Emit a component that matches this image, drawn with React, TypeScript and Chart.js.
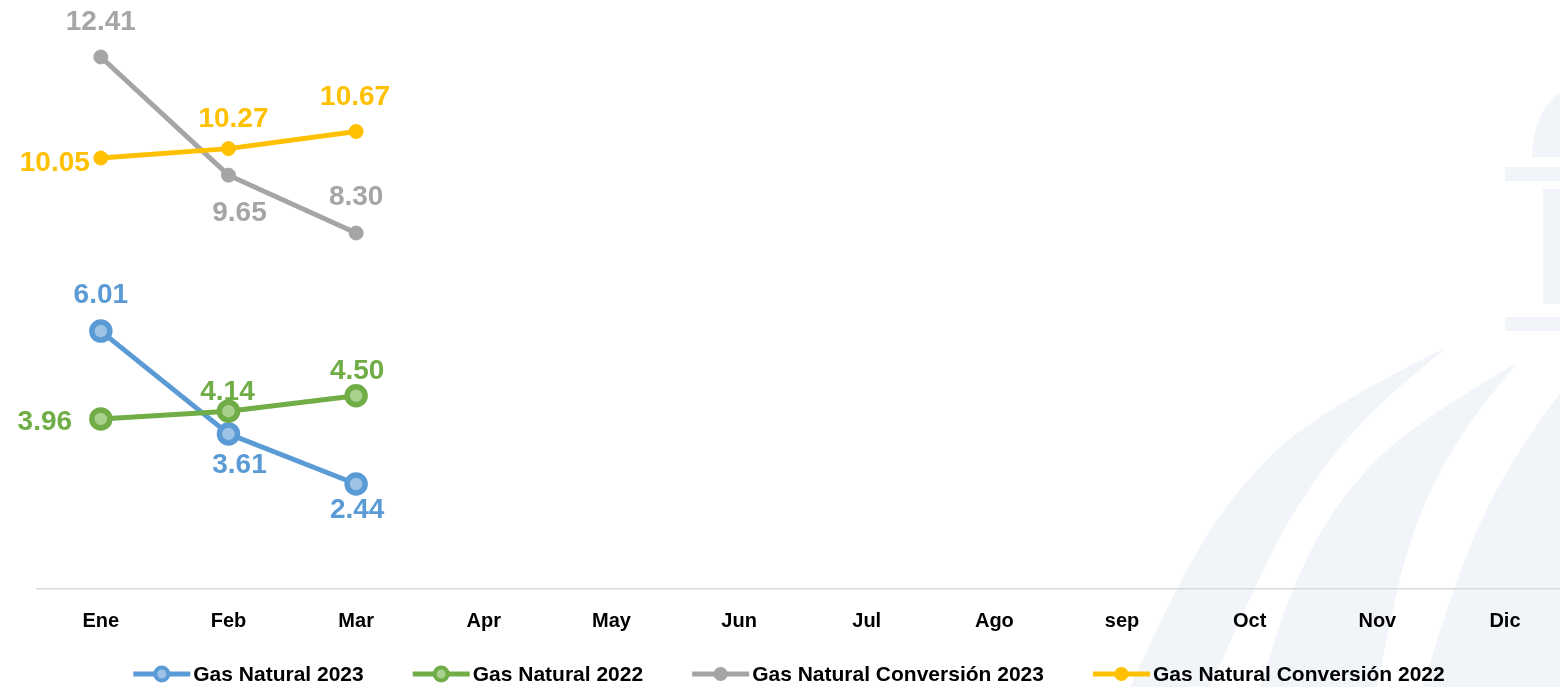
import React, { useEffect, useRef } from 'react';
import { Chart, registerables } from 'chart.js';

Chart.register(...registerables);

const months = ['Ene', 'Feb', 'Mar', 'Apr', 'May', 'Jun', 'Jul', 'Ago', 'sep', 'Oct', 'Nov', 'Dic'];
const gasNatural2023 = [6.01, 3.61, 2.44];
const gasNatural2022 = [3.96, 4.14, 4.5];
const conversion2023 = [12.41, 9.65, 8.3];
const conversion2022 = [10.05, 10.27, 10.67];
const seriesNames = [
  'Gas Natural 2023',
  'Gas Natural 2022',
  'Gas Natural Conversión 2023',
  'Gas Natural Conversión 2022',
];

const FONT = "'Liberation Sans', Arial, sans-serif";
const BLUE = '#5b9bd5';
const GREEN = '#70ad47';
const GRAY = '#a5a5a5';
const YELLOW = '#ffc000';

const toPoints = (arr: number[]) => arr.map((v, i) => ({ x: i, y: v }));

function smoothPath(ctx: CanvasRenderingContext2D, pts: number[][], move: boolean) {
  if (move) ctx.moveTo(pts[0][0], pts[0][1]);
  else ctx.lineTo(pts[0][0], pts[0][1]);
  for (let i = 1; i < pts.length - 1; i++) {
    const mx = (pts[i][0] + pts[i + 1][0]) / 2;
    const my = (pts[i][1] + pts[i + 1][1]) / 2;
    ctx.quadraticCurveTo(pts[i][0], pts[i][1], mx, my);
  }
  const last = pts[pts.length - 1];
  ctx.lineTo(last[0], last[1]);
}

const watermarkPlugin = {
  id: 'watermark',
  beforeDraw(chart: any) {
    const ctx = chart.ctx as CanvasRenderingContext2D;
    ctx.save();
    ctx.fillStyle = '#ffffff';
    ctx.fillRect(0, 0, chart.width, chart.height);
    ctx.fillStyle = '#f1f4f8';
    // stripe 1
    ctx.beginPath();
    smoothPath(ctx, [[1447, 347], [1313, 413], [1230, 497], [1180, 580], [1130, 687]], true);
    smoothPath(ctx, [[1210, 687], [1253, 590], [1297, 503], [1363, 417], [1447, 347]], false);
    ctx.closePath();
    ctx.fill();
    // stripe 2
    ctx.beginPath();
    smoothPath(ctx, [[1517, 363], [1413, 423], [1340, 497], [1293, 583], [1260, 687]], true);
    smoothPath(ctx, [[1377, 687], [1397, 583], [1423, 503], [1463, 430], [1517, 363]], false);
    ctx.closePath();
    ctx.fill();
    // stripe 3
    ctx.beginPath();
    smoothPath(ctx, [[1560, 393], [1513, 457], [1470, 543], [1440, 630], [1423, 687]], true);
    ctx.lineTo(1560, 687);
    ctx.closePath();
    ctx.fill();
    // dome
    ctx.beginPath();
    ctx.moveTo(1532, 157);
    ctx.quadraticCurveTo(1533, 112, 1560, 92);
    ctx.lineTo(1560, 157);
    ctx.closePath();
    ctx.fill();
    ctx.fillRect(1505, 167, 55, 14);
    ctx.fillRect(1543, 189, 17, 115);
    ctx.fillRect(1505, 317, 55, 14);
    ctx.restore();
  },
};

const labelPlugin = {
  id: 'valueLabels',
  afterDatasetsDraw(chart: any) {
    const ctx = chart.ctx as CanvasRenderingContext2D;
    ctx.save();
    ctx.font = `bold 28px ${FONT}`;
    ctx.textAlign = 'center';
    ctx.textBaseline = 'middle';
    chart.data.datasets.forEach((ds: any, di: number) => {
      const meta = chart.getDatasetMeta(di);
      ctx.fillStyle = ds.borderColor;
      meta.data.forEach((el: any, i: number) => {
        const off = ds.labelOffsets[i];
        ctx.fillText(ds.data[i].y.toFixed(2), el.x + off[0], el.y + off[1] + 2.5);
      });
    });
    ctx.restore();
  },
};

const legendPlugin = {
  id: 'customLegend',
  afterDraw(chart: any) {
    const ctx = chart.ctx as CanvasRenderingContext2D;
    ctx.save();
    ctx.font = `bold 21px ${FONT}`;
    ctx.textBaseline = 'middle';
    ctx.textAlign = 'left';
    const lineW = 57;
    const textGap = 3;
    const itemGap = 49;
    const y = 674;
    const widths = chart.data.datasets.map((ds: any) => ctx.measureText(ds.label).width);
    const total = widths.reduce((a: number, w: number) => a + lineW + textGap + w, 0) + itemGap * (widths.length - 1);
    let x = 789 - total / 2;
    chart.data.datasets.forEach((ds: any, i: number) => {
      ctx.strokeStyle = ds.borderColor;
      ctx.lineWidth = 5;
      ctx.beginPath();
      ctx.moveTo(x, y);
      ctx.lineTo(x + lineW, y);
      ctx.stroke();
      const cx = x + lineW / 2;
      ctx.beginPath();
      if (ds.bigMarker) {
        ctx.arc(cx, y, 6.5, 0, Math.PI * 2);
        ctx.fillStyle = ds.pointBackgroundColor;
        ctx.fill();
        ctx.lineWidth = 4;
        ctx.strokeStyle = ds.borderColor;
        ctx.stroke();
      } else {
        ctx.arc(cx, y, 7, 0, Math.PI * 2);
        ctx.fillStyle = ds.borderColor;
        ctx.fill();
      }
      ctx.fillStyle = '#000000';
      ctx.fillText(ds.label, x + lineW + textGap, y + 1);
      x += lineW + textGap + widths[i] + itemGap;
    });
    ctx.restore();
  },
};

export default function App() {
  const canvasRef = useRef<HTMLCanvasElement | null>(null);

  useEffect(() => {
    if (!canvasRef.current) return;
    const bigPoint = (color: string, fill: string) => ({
      borderColor: color,
      backgroundColor: color,
      pointBackgroundColor: fill,
      pointBorderColor: color,
      pointRadius: 9,
      pointBorderWidth: 5.5,
      borderWidth: 5,
      bigMarker: true,
      clip: false,
    });
    const smallPoint = (color: string) => ({
      borderColor: color,
      backgroundColor: color,
      pointBackgroundColor: color,
      pointBorderColor: color,
      pointRadius: 7,
      pointBorderWidth: 1,
      borderWidth: 5,
      bigMarker: false,
      clip: false,
    });
    const chart = new Chart(canvasRef.current, {
      type: 'line',
      data: {
        datasets: [
          {
            label: seriesNames[0],
            data: toPoints(gasNatural2023),
            ...bigPoint(BLUE, '#9dc3e6'),
            order: 3,
            labelOffsets: [[0, -38], [11, 29], [1, 24]],
          } as any,
          {
            label: seriesNames[1],
            data: toPoints(gasNatural2022),
            ...bigPoint(GREEN, '#a9d18e'),
            order: 2,
            labelOffsets: [[-56, 1], [-1, -21], [1, -27]],
          } as any,
          {
            label: seriesNames[2],
            data: toPoints(conversion2023),
            ...smallPoint(GRAY),
            order: 1,
            labelOffsets: [[0, -37], [11, 36], [0, -38]],
          } as any,
          {
            label: seriesNames[3],
            data: toPoints(conversion2022),
            ...smallPoint(YELLOW),
            order: 0,
            labelOffsets: [[-46, 3], [5, -32], [-1, -37]],
          } as any,
        ],
      },
      options: {
        responsive: false,
        animation: false,
        events: [],
        layout: { autoPadding: false, padding: { left: 37, right: 0, top: 0, bottom: 0 } },
        scales: {
          x: {
            type: 'linear',
            min: -0.5,
            max: 11.431,
            afterBuildTicks: (s: any) => {
              s.ticks = months.map((_, i) => ({ value: i }));
            },
            afterFit: (s: any) => {
              s.height = 98.5;
            },
            grid: { display: false, drawTicks: false },
            border: { display: true, color: '#d9d9d9', width: 1.5 },
            ticks: {
              autoSkip: false,
              maxRotation: 0,
              padding: 21,
              color: '#000000',
              font: { family: FONT, size: 20, weight: 'bold' },
              callback: (v: any) => months[Math.round(Number(v))] ?? '',
            },
          },
          y: { display: false, min: 0, max: 13.74 },
        },
        plugins: {
          legend: { display: false },
          tooltip: { enabled: false },
        },
      } as any,
      plugins: [watermarkPlugin, labelPlugin, legendPlugin],
    });
    return () => chart.destroy();
  }, []);

  return (
    <div style={{ position: 'fixed', left: 0, top: 0, width: 1560, height: 687, background: '#fff', overflow: 'hidden' }}>
      <canvas ref={canvasRef} width={1560} height={687} style={{ display: 'block' }} />
    </div>
  );
}
